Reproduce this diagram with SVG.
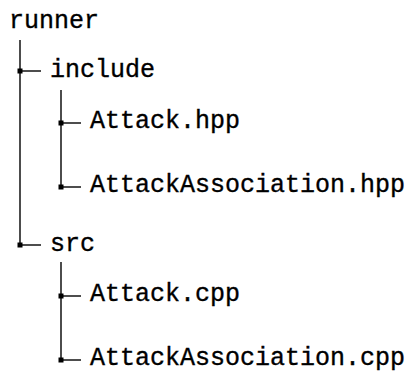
<svg xmlns="http://www.w3.org/2000/svg" width="418" height="374" viewBox="0 0 418 374">
  <style>
    .label { font-family: "Courier New", "Nimbus Mono PS", "FreeMono", "Liberation Mono", monospace; font-size: 25px; fill: #000; stroke: #000; stroke-width: 0.35; }
    .edge { stroke: #000; stroke-width: 1.4; fill: none; }
    .dot { fill: #000; }
  </style>
  <rect width="418" height="374" fill="#fff"/>

  <!-- tree connectors: trunks, branches and junction markers -->
  <g id="connectors">
    <line class="edge" x1="20" y1="40" x2="20" y2="245"/>
    <line class="edge" x1="20" y1="71" x2="41" y2="71"/>
    <line class="edge" x1="20" y1="245" x2="41" y2="245"/>
    <rect class="dot" x="17.5" y="68.5" width="5" height="5"/>
    <rect class="dot" x="17.5" y="242.5" width="5" height="5"/>

    <line class="edge" x1="61" y1="90" x2="61" y2="187"/>
    <line class="edge" x1="61" y1="123" x2="81" y2="123"/>
    <line class="edge" x1="61" y1="187" x2="81" y2="187"/>
    <rect class="dot" x="58.5" y="120.5" width="5" height="5"/>
    <rect class="dot" x="58.5" y="184.5" width="5" height="5"/>

    <line class="edge" x1="61" y1="262" x2="61" y2="360"/>
    <line class="edge" x1="61" y1="296" x2="81" y2="296"/>
    <line class="edge" x1="61" y1="360" x2="81" y2="360"/>
    <rect class="dot" x="58.5" y="293.5" width="5" height="5"/>
    <rect class="dot" x="58.5" y="357.5" width="5" height="5"/>
  </g>

  <g id="runner"><text class="label" x="9" y="28">runner</text></g>
  <g id="include"><text class="label" x="50" y="77">include</text></g>
  <g id="attack-hpp"><text class="label" x="90" y="128">Attack.hpp</text></g>
  <g id="attackassociation-hpp"><text class="label" x="90" y="192">AttackAssociation.hpp</text></g>
  <g id="src"><text class="label" x="50" y="251">src</text></g>
  <g id="attack-cpp"><text class="label" x="90" y="301">Attack.cpp</text></g>
  <g id="attackassociation-cpp"><text class="label" x="90" y="365">AttackAssociation.cpp</text></g>
</svg>
